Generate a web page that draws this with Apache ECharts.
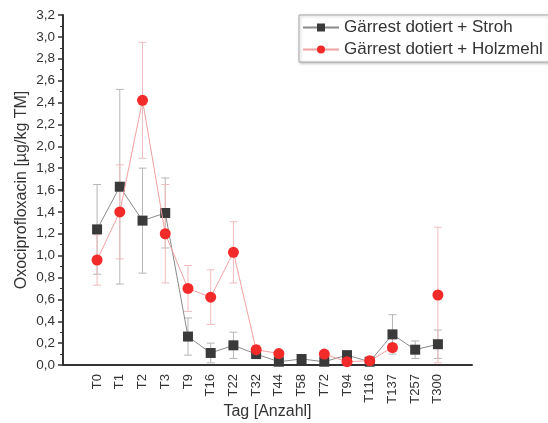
<!DOCTYPE html>
<html>
<head>
<meta charset="utf-8">
<script src="https://cdn.jsdelivr.net/npm/echarts@6/dist/echarts.min.js"></script>
<style>
html,body{margin:0;padding:0;background:#fff;}
#chart{width:548px;height:423px;}
</style>
</head>
<body>
<div id="chart"></div>
<script>
// Sampling days
const days = ['T0','T1','T2','T3','T9','T16','T22','T32','T44','T58','T72','T94','T116','T137','T257','T300'];

// Gärrest dotiert + Stroh: mean and standard deviation
const strohMean = [1.24, 1.63, 1.32, 1.39, 0.26, 0.11, 0.18, 0.10, 0.03, 0.055, 0.03, 0.09, 0.03, 0.28, 0.14, 0.19];
const strohSd   = [0.41, 0.89, 0.48, 0.32, 0.17, 0.09, 0.12, 0.02, 0.01, 0.01, 0.01, 0.02, 0.01, 0.18, 0.08, 0.13];

// Gärrest dotiert + Holzmehl: mean and standard deviation
const holzMean = [0.96, 1.40, 2.42, 1.20, 0.70, 0.62, 1.03, 0.14, 0.105, null, 0.10, 0.03, 0.04, 0.16, null, 0.64];
const holzSd   = [0.23, 0.43, 0.53, 0.45, 0.21, 0.25, 0.28, 0.04, 0.02, null, 0.02, 0.01, 0.01, 0.03, null, 0.62];

const yTicks = { min: 0, max: 3.2, step: 0.2 };

// Empty slot on both ends of the category axis
const axisCats = [''].concat(days, ['']);
const pad = arr => [null].concat(arr, [null]);

function errorData(mean, sd) {
  const out = [];
  mean.forEach((m, i) => {
    if (m != null && sd[i] != null) out.push([i + 1, m - sd[i], m + sd[i]]);
  });
  return out;
}

function errorRenderer(color) {
  return function (params, api) {
    const x = api.value(0);
    const lo = api.coord([x, api.value(1)]);
    const hi = api.coord([x, api.value(2)]);
    const w = 4;
    const style = { stroke: color, lineWidth: 1 };
    return {
      type: 'group',
      children: [
        { type: 'line', shape: { x1: lo[0], y1: lo[1], x2: hi[0], y2: hi[1] }, style },
        { type: 'line', shape: { x1: lo[0] - w, y1: lo[1], x2: lo[0] + w, y2: lo[1] }, style },
        { type: 'line', shape: { x1: hi[0] - w, y1: hi[1], x2: hi[0] + w, y2: hi[1] }, style }
      ]
    };
  };
}

const font = 'Liberation Sans, Arial, sans-serif';
const chart = echarts.init(document.getElementById('chart'));

chart.setOption({
  animation: false,
  grid: { left: 63, right: 76, top: 15, bottom: 58, containLabel: false, outerBoundsMode: 'none' },
  legend: {
    left: 299, top: 15,
    orient: 'vertical',
    padding: [4, 6, 4, 3],
    itemGap: 5,
    itemWidth: 36,
    itemHeight: 10,
    backgroundColor: '#fff',
    borderColor: '#aaa',
    borderWidth: 1,
    shadowColor: 'rgba(0,0,0,0.25)',
    shadowBlur: 3,
    shadowOffsetX: 1,
    shadowOffsetY: 1,
    textStyle: { fontFamily: font, fontSize: 17, color: '#333' },
    data: ['Gärrest dotiert + Stroh', 'Gärrest dotiert + Holzmehl']
  },
  xAxis: [
    {
      type: 'category',
      data: axisCats,
      boundaryGap: true,
      name: 'Tag [Anzahl]',
      nameLocation: 'middle',
      nameGap: 39,
      nameMoveOverlap: false,
      nameTextStyle: { fontFamily: font, fontSize: 16, color: '#333' },
      axisLine: { lineStyle: { color: '#333', width: 2 } },
      axisTick: { alignWithLabel: true, interval: 0, length: 7, lineStyle: { color: '#333', width: 1.5 } },
      axisLabel: { interval: 0, rotate: 90, fontFamily: font, fontSize: 13, color: '#333', margin: 9 },
      splitLine: { show: false }
    },
    {
      type: 'category',
      data: axisCats,
      boundaryGap: true,
      position: 'bottom',
      axisLine: { show: false },
      axisTick: { interval: 0, length: 4, lineStyle: { color: '#333', width: 1 } },
      axisLabel: { show: false },
      splitLine: { show: false }
    }
  ],
  yAxis: {
    type: 'value',
    min: yTicks.min,
    max: yTicks.max,
    interval: yTicks.step,
    name: 'Oxociprofloxacin [µg/kg TM]',
    nameLocation: 'middle',
    nameGap: 33,
    nameMoveOverlap: false,
    nameTextStyle: { fontFamily: font, fontSize: 16, color: '#333' },
    axisLine: { show: true, lineStyle: { color: '#333', width: 2 } },
    axisTick: { show: true, length: 5, lineStyle: { color: '#333', width: 1.5 } },
    minorTick: { show: true, splitNumber: 2, length: 3, lineStyle: { color: '#333' } },
    axisLabel: {
      fontFamily: font, fontSize: 13.5, color: '#333', margin: 8,
      formatter: v => v.toFixed(1).replace('.', ',')
    },
    splitLine: { show: false }
  },
  series: [
    {
      type: 'custom',
      name: 'err-stroh',
      renderItem: errorRenderer('#b5b5b5'),
      data: errorData(strohMean, strohSd),
      z: 1,
      silent: true
    },
    {
      type: 'custom',
      name: 'err-holz',
      renderItem: errorRenderer('#efbcbc'),
      data: errorData(holzMean, holzSd),
      z: 1,
      silent: true
    },
    {
      type: 'line',
      name: 'Gärrest dotiert + Stroh',
      data: pad(strohMean),
      symbol: 'rect',
      symbolSize: 10,
      itemStyle: { color: '#3a3a3a' },
      lineStyle: { color: '#8a8a8a', width: 1 },
      z: 3
    },
    {
      type: 'line',
      name: 'Gärrest dotiert + Holzmehl',
      data: pad(holzMean),
      symbol: 'circle',
      symbolSize: 11,
      itemStyle: { color: '#f22a2a' },
      lineStyle: { color: '#f0a0a0', width: 1 },
      z: 4
    }
  ]
});
</script>
</body>
</html>
